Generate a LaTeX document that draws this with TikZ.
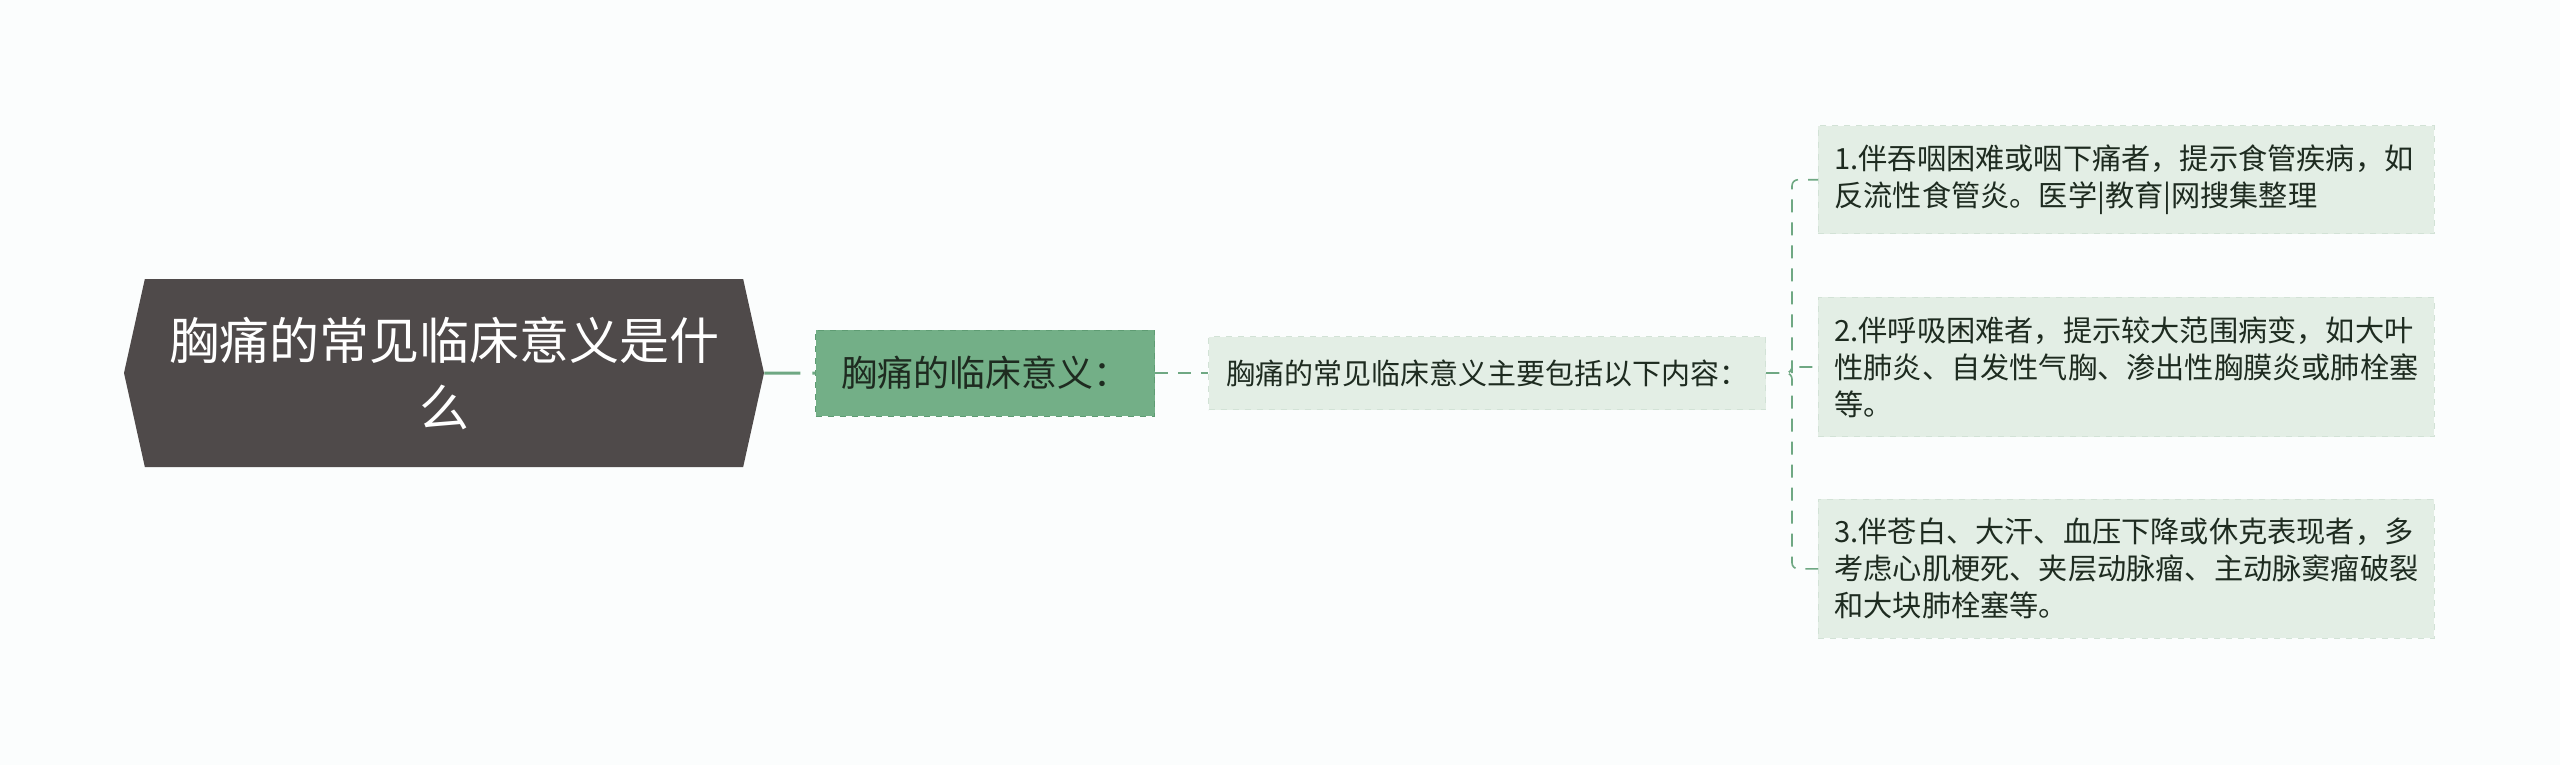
\documentclass[tikz,border=0pt]{standalone}
\usepackage{fontspec}
\setmainfont{Noto Sans CJK SC}
\usetikzlibrary{shapes,positioning}
\definecolor{bgcol}{HTML}{FBFDFD}
\definecolor{rootcol}{HTML}{4F4A4A}
\definecolor{subcol}{HTML}{73AF87}
\definecolor{subline}{HTML}{5E9C73}
\definecolor{leafcol}{HTML}{E3EEE5}
\definecolor{leafline}{HTML}{D2E2D6}
\definecolor{linkcol}{HTML}{6FA883}
\definecolor{textcol}{HTML}{1E2B20}

\begin{document}
\begin{tikzpicture}[x=1pt,y=1pt,
    block_root/.style ={signal, signal to=west and east, signal pointer angle=155,
      fill=rootcol, draw=none, text=white, font=\fontsize{25}{33.5}\selectfont,
      minimum width=320pt, minimum height=94pt, align=center, inner sep=2pt},
    block_sub/.style ={rectangle, fill=subcol, draw=subline, dashed, text=textcol,
      font=\fontsize{18}{22}\selectfont, minimum width=169.5pt, minimum height=43pt},
    block_mid/.style ={rectangle, fill=leafcol, draw=leafline, dashed, text=textcol,
      font=\fontsize{14.5}{18}\selectfont, minimum width=278.5pt, minimum height=36.5pt},
    block_leaf/.style ={rectangle, fill=leafcol, draw=leafline, dashed, text=textcol,
      font=\fontsize{14.6}{18.5}\selectfont, text width=292pt, align=left,
      inner xsep=8pt, inner ysep=9.5pt},
    thick_link/.style ={draw=linkcol, line width=1.5pt, dash pattern=on 18pt off 6pt},
    thin_link/.style ={draw=linkcol, line width=0.8pt, dash pattern=on 6.5pt off 5pt,
      rounded corners=3pt}]
    \useasboundingbox[fill=bgcol] (0,0) rectangle (1280,-382.5);
    % root
    \node [block_root] (root) at (222,-186.5) {胸痛的常见临床意义是什\\么};
    % row
    \node [block_sub] (meaning) [right=25.5pt of root] {胸痛的临床意义：};
    \node [block_mid] (summary) [right=26.5pt of meaning] {胸痛的常见临床意义主要包括以下内容：};
    % leaves
    \node [block_leaf] (leaf2) [right=26pt of summary, yshift=3pt] {2.伴呼吸困难者，提示较大范围病变，如大叶\\性肺炎、自发性气胸、渗出性胸膜炎或肺栓塞\\等。};
    \node [block_leaf] (leaf1) [above=31.5pt of leaf2] {1.伴吞咽困难或咽下痛者，提示食管疾病，如\\反流性食管炎。医学|教育|网搜集整理};
    \node [block_leaf] (leaf3) [below=31pt of leaf2] {3.伴苍白、大汗、血压下降或休克表现者，多\\考虑心肌梗死、夹层动脉瘤、主动脉窦瘤破裂\\和大块肺栓塞等。};
    % connecting nodes with paths
    \path [thick_link] (root) -- (meaning);
    \path [thin_link] (meaning) -- (summary);
    \path [thin_link] (summary.east) -- ++(13pt,0) |- (leaf1.west);
    \path [thin_link] (summary.east) -- ++(13pt,0) |- (leaf2.west);
    \path [thin_link] (summary.east) -- ++(13pt,0) |- (leaf3.west);
  \end{tikzpicture}
\end{document}
